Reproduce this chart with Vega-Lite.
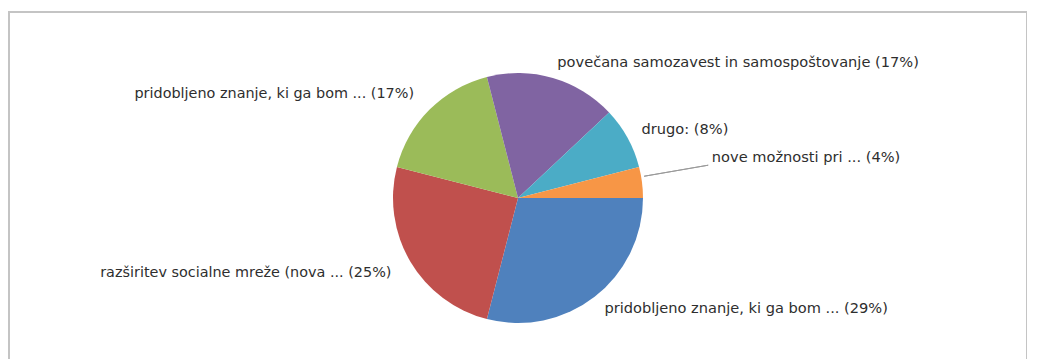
{
  "$schema": "https://vega.github.io/schema/vega-lite/v6.json",
  "width": 1018,
  "height": 372,
  "autosize": {"type": "none"},
  "padding": {"left": 9, "top": 12, "right": 0, "bottom": 0},
  "background": "white",
  "view": {"stroke": "#c4c4c4", "strokeWidth": 2},
  "data": {
    "values": [
      {"idx": 1, "label": "pridobljeno znanje, ki ga bom ... (29%)", "value": 29},
      {"idx": 2, "label": "razširitev socialne mreže (nova ... (25%)", "value": 25},
      {"idx": 3, "label": "pridobljeno znanje, ki ga bom ... (17%)", "value": 17},
      {"idx": 4, "label": "povečana samozavest in samospoštovanje (17%)", "value": 17},
      {"idx": 5, "label": "drugo: (8%)", "value": 8},
      {"idx": 6, "label": "nove možnosti pri ... (4%)", "value": 4}
    ]
  },
  "layer": [
    {
      "mark": {"type": "arc", "outerRadius": 125, "stroke": null},
      "encoding": {
        "theta": {"field": "value", "type": "quantitative", "stack": true, "scale": {"domain": [0, 100], "range": [1.5708, 7.854]}},
        "order": {"field": "idx", "type": "quantitative"},
        "color": {"field": "idx", "type": "nominal", "legend": null,
          "scale": {"domain": [1, 2, 3, 4, 5, 6], "range": ["#4f81bd", "#c0504d", "#9bbb59", "#8064a2", "#4bacc6", "#f79646"]}}
      }
    },
    {
      "mark": {"type": "text", "radius": 141, "align": "left", "baseline": "middle", "font": "DejaVu Sans", "fontSize": 14.6, "color": "#2e2e2e"},
      "encoding": {
        "theta": {"field": "value", "type": "quantitative", "stack": true, "scale": {"domain": [0, 100], "range": [1.5708, 7.854]}},
        "order": {"field": "idx", "type": "quantitative"},
        "text": {"condition": {"test": "datum.idx == 1 || datum.idx == 4 || datum.idx == 5", "field": "label"}, "value": ""}
      }
    },
    {
      "mark": {"type": "text", "radius": 147, "align": "right", "baseline": "middle", "font": "DejaVu Sans", "fontSize": 14.4, "color": "#2e2e2e"},
      "encoding": {
        "theta": {"field": "value", "type": "quantitative", "stack": true, "scale": {"domain": [0, 100], "range": [1.5708, 7.854]}},
        "order": {"field": "idx", "type": "quantitative"},
        "text": {"condition": {"test": "datum.idx == 2 || datum.idx == 3", "field": "label"}, "value": ""}
      }
    },
    {
      "mark": {"type": "text", "radius": 198, "thetaOffset": -0.08, "align": "left", "baseline": "middle", "font": "DejaVu Sans", "fontSize": 14.6, "color": "#2e2e2e"},
      "encoding": {
        "theta": {"field": "value", "type": "quantitative", "stack": true, "scale": {"domain": [0, 100], "range": [1.5708, 7.854]}},
        "order": {"field": "idx", "type": "quantitative"},
        "text": {"condition": {"test": "datum.idx == 6", "field": "label"}, "value": ""}
      }
    },
    {
      "data": {"values": [{"leader": "nove možnosti pri ..."}]},
      "mark": {"type": "arc", "theta": 1.40, "theta2": 1.40, "radius": 128, "radius2": 193, "stroke": "#9a9a9a", "strokeWidth": 1, "fill": null},
      "encoding": {}
    }
  ]
}
